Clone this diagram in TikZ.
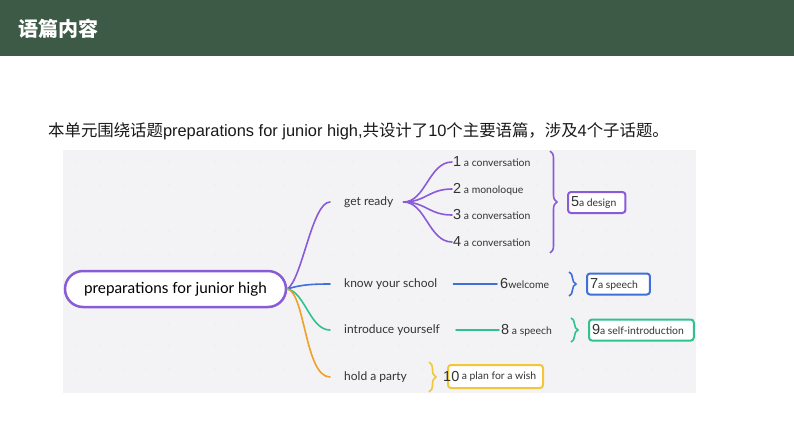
\documentclass[tikz,border=0pt]{standalone}
\usepackage{fontspec}
\setmainfont{Lato}
\newfontfamily\cjk{Noto Sans CJK SC}
\newfontfamily\arial{Liberation Sans}
\usetikzlibrary{decorations.pathreplacing}
\definecolor{hdr}{HTML}{3D5A47}
\definecolor{mmbg}{HTML}{F3F3F5}
\definecolor{cpur}{HTML}{8A5BD6}
\definecolor{cblu}{HTML}{3F6FD9}
\definecolor{cgrn}{HTML}{2FC28C}
\definecolor{corg}{HTML}{F0A02A}
\definecolor{cyel}{HTML}{F2C53A}
\definecolor{txt}{HTML}{333333}
\newcommand\nm[1]{{\arial\fontsize{14.5}{15}\selectfont #1}}
\begin{document}
\begin{tikzpicture}[x=1pt,y=-1pt,
  lbl/.style={anchor=west,inner sep=0,font=\fontsize{12}{14}\selectfont,text=txt},
  leaf/.style={anchor=west,inner sep=0,font=\fontsize{10.4}{12}\selectfont,text=txt},
  br/.style={line width=1.6pt,line cap=round},
  bbox/.style={draw,line width=2pt,rounded corners=3pt,fill=white,inner xsep=3pt,inner ysep=2pt,minimum height=21,anchor=west,font=\fontsize{10.4}{12}\selectfont,text=txt},
  brc/.style={decorate,decoration={brace,amplitude=7pt},line width=1.6pt}]
\useasboundingbox (0,0) rectangle (794,447);
\fill[white] (0,0) rectangle (794,447);
\fill[hdr] (0,0) rectangle (794,56);
\node[anchor=west,text=white,inner sep=0,font=\cjk\bfseries\fontsize{20}{22}\selectfont] (title) at (18,28.5) {语篇内容};
\node[anchor=west,inner sep=0,font=\fontsize{16.4}{18}\selectfont,text=black!90] (intro) at (48,131) {\cjk 本单元围绕话题\arial preparations for junior high,\cjk 共设计了\arial 10\cjk 个主要语篇，涉及\arial 4\cjk 个子话题。};
% mind map background
\fill[mmbg] (63,150) rectangle (696,393);
\foreach \i in {0,...,26} \foreach \j in {0,...,9} \fill[black!10] (77+23*\i,162+23*\j) circle (0.7);
% root
\node[draw=cpur,line width=2.5pt,rounded corners=18pt,fill=white,minimum width=221,minimum height=36,font=\fontsize{15.3}{17}\selectfont,text=black] (root) at (175.5,289) {preparations for junior high};
% level 1
\node[lbl] (gr) at (344,202) {get ready};
\node[lbl] (ky) at (344,284) {know your school};
\node[lbl] (iy) at (344,330) {introduce yourself};
\node[lbl] (hp) at (344,377) {hold a party};
\draw[br,cpur] (root.east) .. controls (302,280) and (312,202) .. ([xshift=-14]gr.west);
\draw[br,cblu] (root.east) .. controls (300,285) and (310,284) .. ([xshift=-14]ky.west);
\draw[br,cgrn] (root.east) .. controls (305,292) and (310,330) .. ([xshift=-14]iy.west);
\draw[br,corg] (root.east) .. controls (305,292) and (305,377) .. ([xshift=-14]hp.west);
% get ready leaves
\node[leaf] (l1) at (453,162) {\nm{1} a conversation};
\node[leaf] (l2) at (453,189) {\nm{2} a monoloque};
\node[leaf] (l3) at (453,215) {\nm{3} a conversation};
\node[leaf] (l4) at (453,242) {\nm{4} a conversation};
\foreach \n in {l1,l2,l3,l4}
  \draw[br,cpur] ([xshift=10]gr.east) .. controls ([xshift=32]gr.east) and ([xshift=-24]\n.west) .. ([xshift=-1]\n.west);
\draw[brc,cpur] (550,151) -- (550,253);
\node[bbox,draw=cpur] (b5) at (567,202.5) {\nm{5}a design\kern6pt};
% know your school
\node[leaf] (w6) at (500,284) {\nm{6}welcome};
\draw[br,cblu] ([xshift=16]ky.east) -- ([xshift=-3]w6.west);
\draw[brc,cblu] (569,272) -- (569,296);
\node[bbox,draw=cblu] (b7) at (586,284) {\nm{7}a speech\kern9pt};
% introduce yourself
\node[leaf] (s8) at (501,330) {\nm{8} a speech};
\draw[br,cgrn] ([xshift=16]iy.east) -- ([xshift=-2]s8.west);
\draw[brc,cgrn] (571,318) -- (571,342);
\node[bbox,draw=cgrn] (b9) at (588,330) {\nm{9}a self-introduction\kern7pt};
% hold a party
\draw[brc,cyel] (429,362) -- (429,392);
\node[bbox,draw=cyel,minimum width=95,minimum height=23] (b10) at (447,376.5) {\hspace{7pt}a plan for a wish};
\node[anchor=west,inner sep=0,text=txt] (n10) at (443,377) {\nm{10}};
\end{tikzpicture}
\end{document}
